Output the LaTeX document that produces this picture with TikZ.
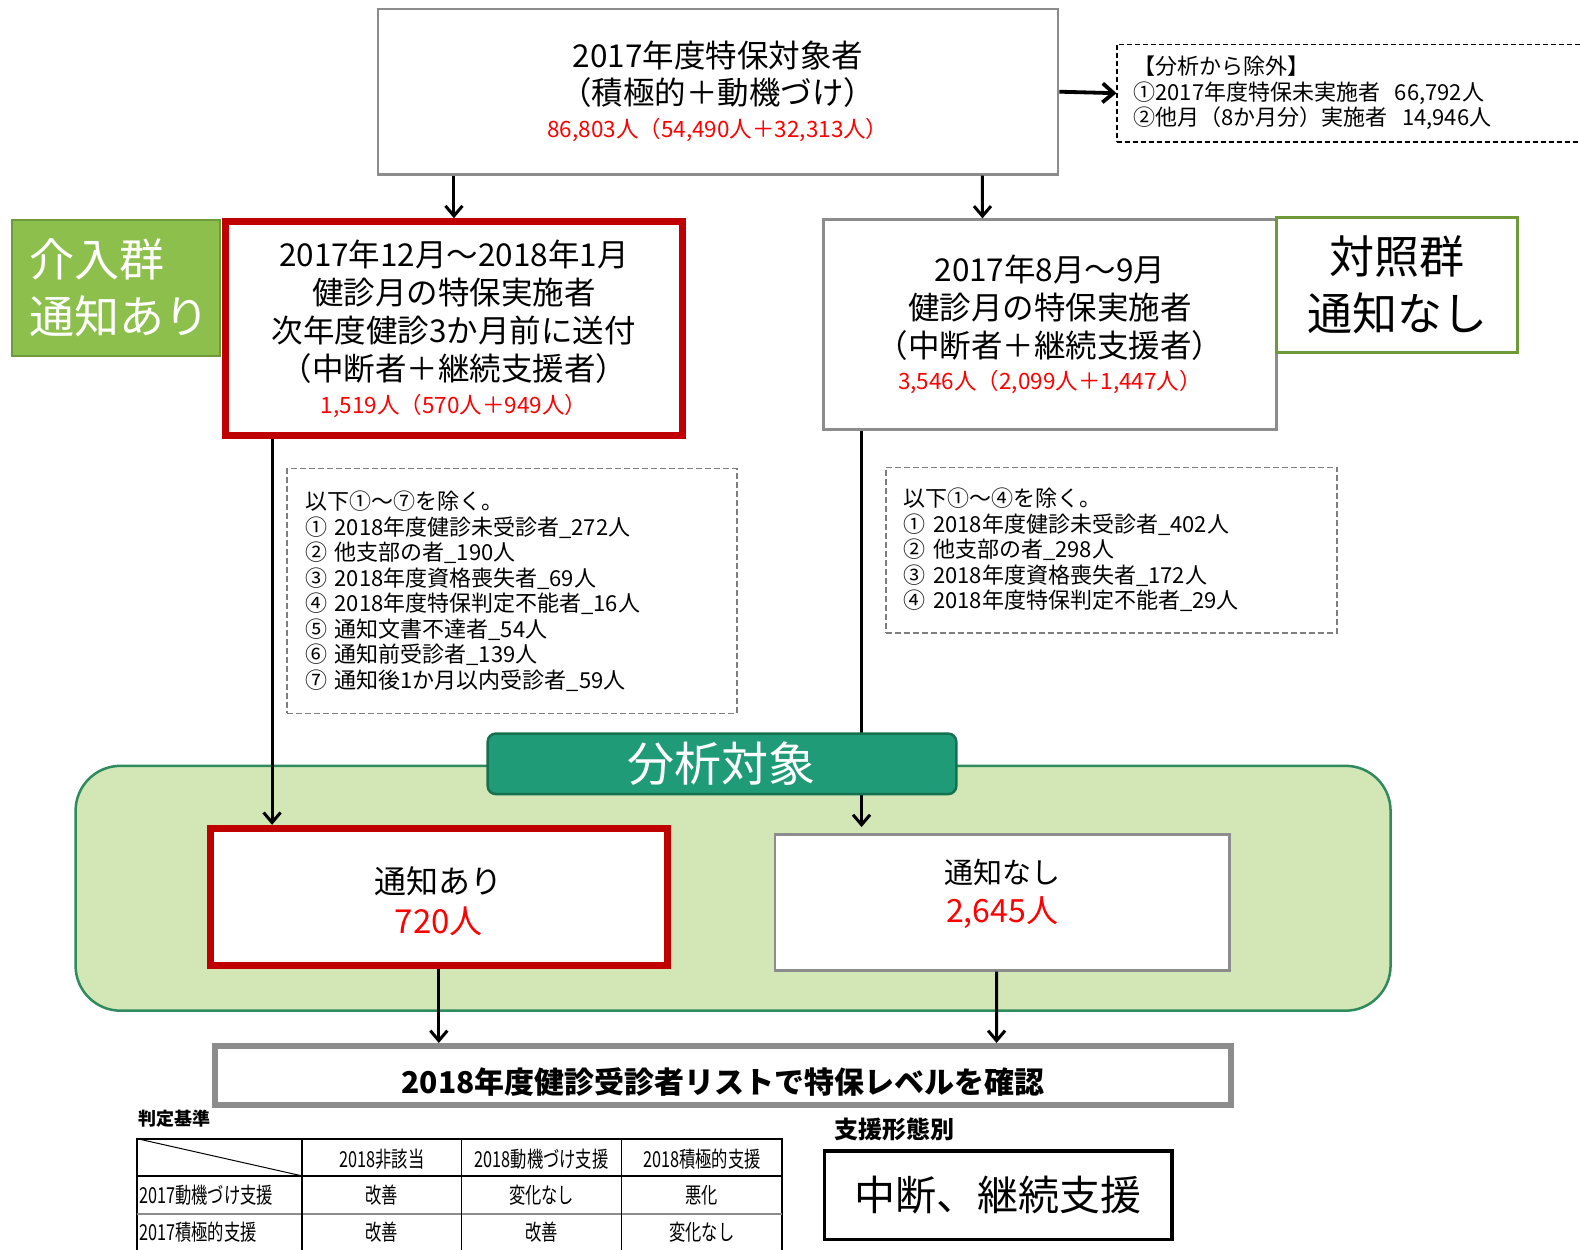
\documentclass[tikz,border=0pt]{standalone}
\usepackage{fontspec}
\setmainfont{Noto Sans CJK JP}
\usetikzlibrary{arrows.meta,calc}
\definecolor{dred}{HTML}{C00000}
\definecolor{tred}{HTML}{FF0000}
\definecolor{gline}{HTML}{8C8C8C}
\definecolor{lgreen}{HTML}{8CBF4B}
\definecolor{lgreenline}{HTML}{6E9A3A}
\definecolor{regionfill}{HTML}{D2E6B6}
\definecolor{regionline}{HTML}{2F8A5E}
\definecolor{tabfill}{HTML}{1F9B77}
\definecolor{tabline}{HTML}{16714F}
\newcommand\redt[1]{{\color{tred}\fontsize{22.5}{26}\selectfont #1}}
\newcommand\cnd[1]{\scalebox{0.74}[1]{#1}}
\tikzset{
  sz/.style 2 args={minimum width=#1*1.0077pt, minimum height=#2*1.0077pt},
  arr/.style={line width=3pt, -{Straight Barb[length=10pt,width=17pt]}},
  arrbig/.style={line width=3.8pt, -{Straight Barb[length=11pt,width=19pt]}},
  dashbox/.style={draw=gline!90!black, line width=1.8pt, dash pattern=on 6pt off 3pt},
  tabtxt/.style={inner sep=0pt, font=\fontsize{22}{26}\selectfont},
}
\begin{document}
\begin{tikzpicture}[x=1.0077pt,y=-1.0077pt]
\useasboundingbox (0,0) rectangle (1568,1240);
\fill[white] (0,0) rectangle (1568,1240);

% analysis region
\node[sz={1305}{243}, draw=regionline, fill=regionfill, line width=2.5pt, rounded corners=45pt] (region) at (727.5,881.5) {};

% top box
\node[sz={675}{164}, draw=gline, line width=2.5pt, fill=white, align=center,
  font=\fontsize{31.5}{37}\selectfont] (top) at (712.5,91)
  {2017年度特保対象者\\（積極的＋動機づけ）\\[-4pt]\redt{86,803人（54,490人＋32,313人）}};

% excluded box
\node[sz={467}{97}, draw, line width=1.6pt, dash pattern=on 5pt off 3pt, anchor=west,
  align=left, text width=438.4pt, inner xsep=16.1pt, inner ysep=0pt,
  font=\fontsize{22}{25.5}\selectfont] (ex) at (1108,92.5)
  {【分析から除外】\\①2017年度特保未実施者\ \ 66,792人\\②他月（8か月分）実施者\ \ 14,946人};

% intervention group label
\node[sz={206}{135}, draw=lgreenline, fill=lgreen, line width=2pt, align=left,
  text width=185pt, inner xsep=10.8pt, text=white,
  font=\fontsize{45}{57}\selectfont] (glabel) at (115,285.5) {\hspace*{6pt}介入群\\\hspace*{6pt}通知あり};

% red box
\node[sz={453}{212}, draw=dred, line width=7pt, fill=white, align=center,
  font=\fontsize{31.5}{38}\selectfont] (red) at (450.5,326)
  {2017年12月～2018年1月\\健診月の特保実施者\\次年度健診3か月前に送付\\（中断者＋継続支援者）\\[-5pt]\redt{1,519人（570人＋949人）}};

% gray box
\node[sz={450}{208}, draw=gline, line width=2.5pt, fill=white, align=center,
  font=\fontsize{31.5}{38}\selectfont] (gray) at (1042,322)
  {2017年8月～9月\\健診月の特保実施者\\（中断者＋継続支援者）\\[-6pt]\redt{3,546人（2,099人＋1,447人）}};

% control group label
\node[sz={239}{134}, draw=lgreenline, fill=white, line width=2.5pt, align=center,
  font=\fontsize{45}{57}\selectfont] (clabel) at (1386.5,283) {対照群\\通知なし};

% exclusion lists
\node[sz={446}{243}, dashbox, align=left, text width=413.2pt, inner xsep=18.1pt,
  inner ysep=0pt, font=\fontsize{22}{25.5}\selectfont] (list1) at (508,586.5)
  {以下①～⑦を除く。\\① 2018年度健診未受診者\_272人\\② 他支部の者\_190人\\③ 2018年度資格喪失者\_69人\\④ 2018年度特保判定不能者\_16人\\⑤ 通知文書不達者\_54人\\⑥ 通知前受診者\_139人\\⑦ 通知後1か月以内受診者\_59人};
\node[sz={448}{164}, dashbox, align=left, text width=415pt, inner xsep=18.2pt,
  inner ysep=0pt, font=\fontsize{22}{25.5}\selectfont] (list2) at (1103,546)
  {以下①～④を除く。\\① 2018年度健診未受診者\_402人\\② 他支部の者\_298人\\③ 2018年度資格喪失者\_172人\\④ 2018年度特保判定不能者\_29人};

% result boxes
\node[sz={453}{136}, draw=dred, line width=7pt, fill=white] (nt1) at (435.5,890) {};
\node[align=center, inner sep=0pt, font=\fontsize{32}{40}\selectfont] (nt1t) at (435.5,894)
  {通知あり\\{\color{tred}\fontsize{33}{40}\selectfont 720人}};
\node[sz={451}{135}, draw=gline, line width=2.5pt, fill=white] (nt2) at (994.5,895.5) {};
\node[align=center, inner sep=0pt, font=\fontsize{29}{39}\selectfont] (nt2t) at (994.5,887)
  {通知なし\\{\color{tred}\fontsize{32}{39}\selectfont 2,645人}};

% bottom bar
\node[sz={1009}{59}, draw=gline, line width=6pt, fill=white] (bar) at (717.5,1067.5) {};
\node[inner sep=0pt, font=\fontsize{30}{34}\selectfont\bfseries] (bart) at (717.5,1074)
  {2018年度健診受診者リストで特保レベルを確認};

% criteria label and table
\node[inner sep=0pt, font=\fontsize{18}{22}\selectfont\bfseries] (crit) at (173,1110) {判定基準};
\draw[line width=1.8pt] (136,1250) -- (136,1130) -- (776,1130) -- (776,1250);
\draw[line width=1.8pt] (136,1167) -- (776,1167);
\draw[line width=2.4pt, draw=gline] (136,1205) -- (776,1205);
\draw[line width=1.8pt] (300,1130) -- (300,1250);
\draw[line width=1.8pt] (458,1130) -- (458,1250);
\draw[line width=1.2pt] (617,1130) -- (617,1250);
\draw[line width=1pt] (136,1130) -- (300,1167);
\node[tabtxt] (h1) at (379,1150) {\cnd{2018非該当}};
\node[tabtxt] (h2) at (537.5,1150) {\cnd{2018動機づけ支援}};
\node[tabtxt] (h3) at (696.5,1150) {\cnd{2018積極的支援}};
\node[tabtxt, anchor=west] (r1) at (138,1186) {\cnd{2017動機づけ支援}};
\node[tabtxt, anchor=west] (r2) at (138,1223) {\cnd{2017積極的支援}};
\node[tabtxt] (c11) at (379,1186) {\cnd{改善}};
\node[tabtxt] (c12) at (537.5,1186) {\cnd{変化なし}};
\node[tabtxt] (c13) at (696.5,1186) {\cnd{悪化}};
\node[tabtxt] (c21) at (379,1223) {\cnd{改善}};
\node[tabtxt] (c22) at (537.5,1223) {\cnd{改善}};
\node[tabtxt] (c23) at (696.5,1223) {\cnd{変化なし}};

% support type
\node[inner sep=0pt, font=\fontsize{24}{28}\selectfont\bfseries] (stype) at (888,1121) {支援形態別};
\node[sz={345}{88}, draw=black, line width=3.5pt, fill=white,
  font=\fontsize{41}{48}\selectfont] (sbox) at (990.5,1186) {中断、継続支援};

% connectors
\draw[arrbig] (top.east) -- (ex.west);
\draw[arr] (red.north |- top.south) -- (red.north);
\draw[arr] ($(top.south)+(262.5,0)$) -- ($(gray.north)+(-67,0)$);
\draw[arr] ($(red.south)+(-180.5,0)$) -- ($(nt1.north)+(-165.5,0)$);
\draw[arr] ($(gray.south)+(-187,0)$) -- ($(nt2.north)+(-139.5,-6)$);
\draw[arr] (nt1.south) -- (nt1.south |- bar.north);
\draw[arr] ($(nt2.south)+(-5.5,0)$) -- ($(bar.north)+(271.5,0)$);

% analysis tab (over the line)
\node[sz={465}{60}, draw=tabline, fill=tabfill, line width=2.5pt, rounded corners=8pt,
  text=white, font=\fontsize{47}{50}\selectfont] (tab) at (716.5,758) {分析対象};
\end{tikzpicture}
\end{document}
